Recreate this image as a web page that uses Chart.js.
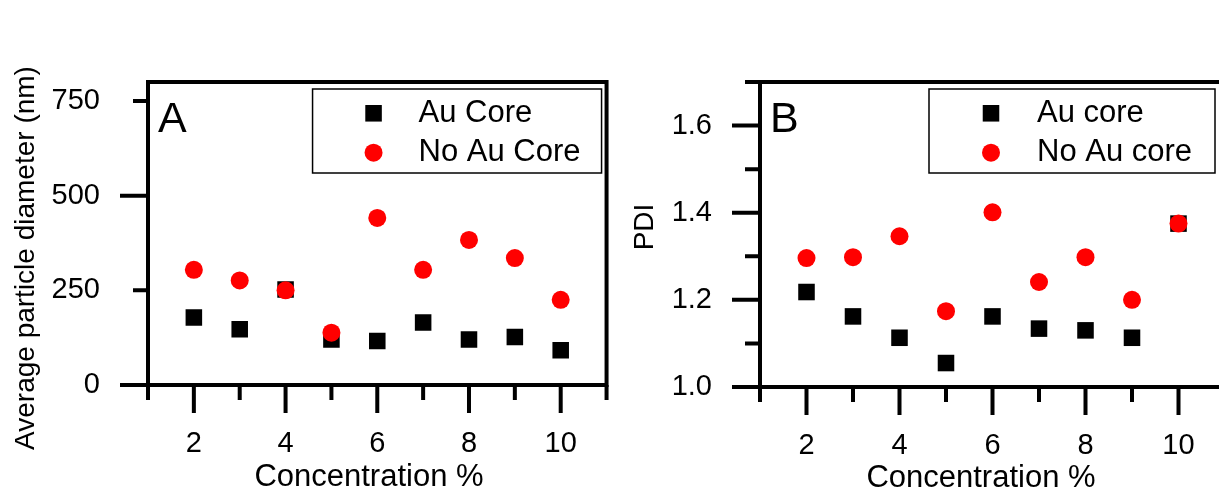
<!DOCTYPE html>
<html>
<head>
<meta charset="utf-8">
<script src="https://cdn.jsdelivr.net/npm/chart.js@4.4.1/dist/chart.umd.min.js"></script>
<style>
  html, body { margin: 0; padding: 0; background: #fff; overflow: hidden; }
  body { width: 1219px; height: 494px; position: relative; }
  #chartA { position: absolute; left: 0; top: 0; }
  #chartB { position: absolute; left: 620px; top: 0; }
</style>
</head>
<body>
<canvas id="chartA" width="620" height="494"></canvas>
<canvas id="chartB" width="620" height="494"></canvas>
<script>
// data
var concentration = [2, 3, 4, 5, 6, 7, 8, 9, 10];
var diameterAuCore = [178, 147, 252, 120, 116, 165, 120, 127, 92];
var diameterNoAuCore = [304, 276, 250, 138, 441, 304, 383, 335, 225];
var pdiAuCore = [1.218, 1.162, 1.113, 1.055, 1.162, 1.134, 1.130, 1.113, 1.375];
var pdiNoAuCore = [1.296, 1.298, 1.346, 1.174, 1.401, 1.241, 1.298, 1.200, 1.375];

// ticks
var xTickLabels = [2, 4, 6, 8, 10];
var xMinorTicks = [1, 3, 5, 7, 9, 11];
var diameterTicks = [0, 250, 500, 750];
var diameterMajor = [0, 500];
var diameterMinor = [250, 750];
var pdiTicks = [1.0, 1.2, 1.4, 1.6];
var pdiMinor = [1.1, 1.3, 1.5, 1.7];

var FONT = '"Liberation Sans", Arial, Helvetica, sans-serif';

function points(values) {
  return concentration.map(function (c, i) { return { x: c, y: values[i] }; });
}

// frame, tick marks, panel letter, axis titles and boxed legend
var framePlugin = {
  id: 'frame',
  afterDraw: function (chart, args, o) {
    var ctx = chart.ctx, a = chart.chartArea;
    var xs = chart.scales.x, ys = chart.scales.y;
    ctx.save();
    ctx.strokeStyle = '#000';
    ctx.lineWidth = 4;
    ctx.strokeRect(a.left, a.top, a.right - a.left, a.bottom - a.top);

    ctx.beginPath();
    xTickLabels.forEach(function (v) {
      var px = xs.getPixelForValue(v);
      ctx.moveTo(px, a.bottom); ctx.lineTo(px, a.bottom + 28);
    });
    xMinorTicks.forEach(function (v) {
      var px = xs.getPixelForValue(v);
      ctx.moveTo(px, a.bottom); ctx.lineTo(px, a.bottom + 15);
    });
    o.yMajor.forEach(function (v) {
      var py = ys.getPixelForValue(v);
      ctx.moveTo(a.left, py); ctx.lineTo(a.left - 28, py);
    });
    o.yMinor.forEach(function (v) {
      var py = ys.getPixelForValue(v);
      ctx.moveTo(a.left, py); ctx.lineTo(a.left - 15, py);
    });
    ctx.stroke();

    ctx.fillStyle = '#000';
    ctx.textAlign = 'left';
    ctx.textBaseline = 'alphabetic';
    ctx.font = '43px ' + FONT;
    ctx.fillText(o.letter, a.left + 10, a.top + 50);

    ctx.textAlign = 'center';
    ctx.font = '31px ' + FONT;
    ctx.fillText(o.xTitle, o.xTitlePos[0], o.xTitlePos[1]);

    ctx.save();
    ctx.translate(o.yTitlePos[0], o.yTitlePos[1]);
    ctx.rotate(-Math.PI / 2);
    ctx.textBaseline = 'middle';
    ctx.font = '28px ' + FONT;
    ctx.fillText(o.yTitle, 0, 0);
    ctx.restore();

    // legend box
    var L = o.legend;
    var bx = a.right - L.right - L.width, by = a.top + L.top;
    ctx.lineWidth = 1.5;
    ctx.strokeRect(bx, by, L.width, L.height);
    ctx.font = '31px ' + FONT;
    ctx.textAlign = 'left';
    ctx.textBaseline = 'middle';
    chart.data.datasets.forEach(function (ds, i) {
      var cy = by + L.rows[i];
      ctx.fillStyle = ds.backgroundColor;
      Chart.helpers.drawPoint(ctx, { pointStyle: ds.pointStyle, radius: ds.pointRadius, rotation: 0, borderWidth: 0 }, bx + L.marker, cy);
      ctx.fillStyle = '#000';
      ctx.fillText(ds.label, bx + L.text, cy);
    });
    ctx.restore();
  }
};

function makeChart(id, labels, auValues, noAuValues, y, frame, layout) {
  return new Chart(document.getElementById(id).getContext('2d'), {
    type: 'scatter',
    data: {
      datasets: [{
        label: labels[0],
        data: points(auValues),
        pointStyle: 'rect',
        pointRadius: 11.7,
        pointHoverRadius: 11.7,
        backgroundColor: '#000000',
        borderWidth: 0,
        order: 1
      }, {
        label: labels[1],
        data: points(noAuValues),
        pointStyle: 'circle',
        pointRadius: 9,
        pointHoverRadius: 9,
        backgroundColor: '#ff0000',
        borderWidth: 0,
        order: 0
      }]
    },
    options: {
      responsive: false,
      animation: false,
      events: [],
      layout: { padding: { top: 82, right: layout.right, left: 0, bottom: 0 } },
      plugins: {
        legend: { display: false },
        tooltip: { enabled: false },
        frame: frame
      },
      scales: {
        x: {
          type: 'linear',
          min: 1,
          max: 11,
          grid: { display: false, drawTicks: false },
          border: { display: false },
          afterBuildTicks: function (s) { s.ticks = xTickLabels.map(function (v) { return { value: v }; }); },
          afterFit: function (s) { s.height = layout.xHeight; },
          ticks: { padding: 42, autoSkip: false, maxRotation: 0, color: '#000', font: { size: 29, family: FONT } }
        },
        y: {
          type: 'linear',
          min: y.min,
          max: y.max,
          grid: { display: false, drawTicks: false },
          border: { display: false },
          afterBuildTicks: function (s) { s.ticks = y.ticks.map(function (v) { return { value: v }; }); },
          afterFit: function (s) { s.width = layout.yWidth; },
          ticks: {
            padding: 48,
            color: '#000',
            font: { size: 29, family: FONT },
            callback: function (v) { return y.decimals ? v.toFixed(y.decimals) : String(v); }
          }
        }
      }
    },
    plugins: [framePlugin]
  });
}

makeChart('chartA', ['Au Core', 'No Au Core'], diameterAuCore, diameterNoAuCore,
  { min: 0, max: 800, ticks: diameterTicks, decimals: 0 },
  {
    letter: 'A', yMajor: diameterMajor, yMinor: diameterMinor,
    xTitle: 'Concentration %', xTitlePos: [369, 486],
    yTitle: 'Average particle diameter (nm)', yTitlePos: [26, 258],
    legend: { right: 5, top: 7, width: 289, height: 84, rows: [24.3, 63.7], marker: 61, text: 106 }
  },
  { right: 7, xHeight: 109, yWidth: 148 });

makeChart('chartB', ['Au core', 'No Au core'], pdiAuCore, pdiNoAuCore,
  { min: 1.0, max: 1.7, ticks: pdiTicks, decimals: 1 },
  {
    letter: 'B', yMajor: pdiTicks, yMinor: pdiMinor,
    xTitle: 'Concentration %', xTitlePos: [361, 487],
    yTitle: 'PDI', yTitlePos: [25, 227],
    legend: { right: 10, top: 7, width: 286, height: 84, rows: [24.3, 63.7], marker: 62, text: 108 }
  },
  { right: 15, xHeight: 107, yWidth: 140 });
</script>
</body>
</html>
